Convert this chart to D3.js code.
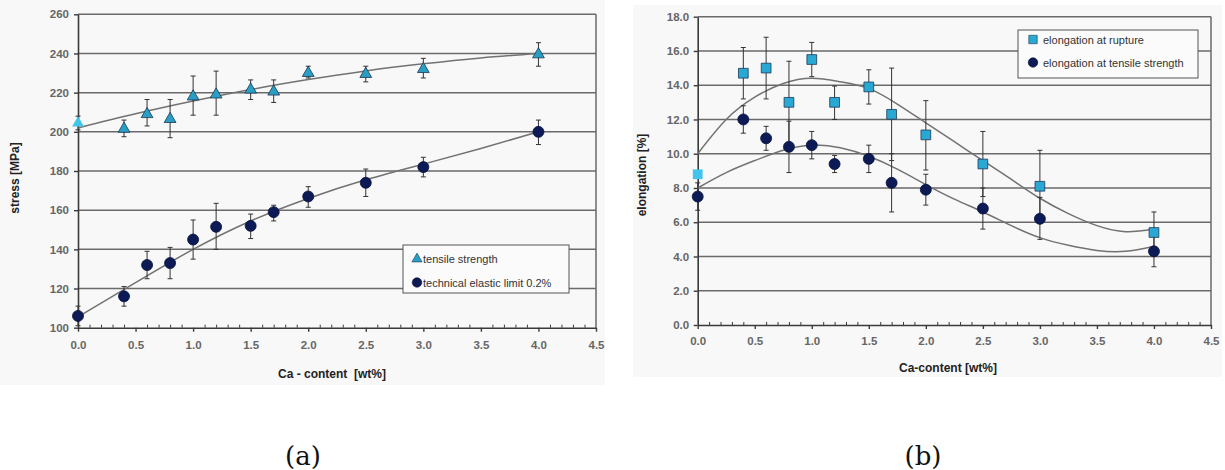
<!DOCTYPE html>
<html><head><meta charset="utf-8">
<script src="https://cdn.jsdelivr.net/npm/d3@7"></script>
<style>
body{margin:0;background:#fff;}
text{font-family:"Liberation Sans",Arial,sans-serif;}
</style></head>
<body>
<script>
// ---------- data ----------
const caContent = [0, 0.4, 0.6, 0.8, 1.0, 1.2, 1.5, 1.7, 2.0, 2.5, 3.0, 4.0];

// (a) stress
const tensileStrength   = [204.5, 201.5, 209, 206.5, 218, 219, 221.5, 220.5, 230, 229.5, 232, 239.5];
const tensileStrengthLo = [201, 197.5, 203, 197, 208.5, 208.5, 216.5, 215, 227.5, 225.5, 227.5, 233.5];
const tensileStrengthHi = [208, 206, 216.5, 216.5, 228.5, 231, 226.5, 226.5, 233.5, 233.5, 237.5, 245.5];
const elasticLimit   = [106, 116, 132, 133, 145, 151.5, 152, 159, 167, 174, 182, 200];
const elasticLimitLo = [101, 111, 125, 125, 135, 140, 145.5, 154.5, 161.5, 167, 177, 193.5];
const elasticLimitHi = [111, 121, 139, 141, 155, 163.5, 158, 162.5, 172, 181, 187, 206];
const trendXa = [0, 0.5, 1.0, 1.5, 2.0, 2.5, 3.0, 3.5, 4.0];
const tensileTrend = [202, 209.2, 215.7, 221.6, 226.7, 231.1, 234.7, 237.7, 240];
const elasticTrend = [105.5, 123, 140, 154.5, 166, 175.5, 183.5, 191.5, 200];
const stressTicks = [100, 120, 140, 160, 180, 200, 220, 240, 260];

// (b) elongation
const elongRupture   = [8.8, 14.7, 15.0, 13.0, 15.5, 13.0, 13.9, 12.3, 11.1, 9.4, 8.1, 5.4];
const elongRuptureLo = [null, 13.2, 13.2, 10.6, 14.5, 12.0, 12.9, 9.6, 9.05, 7.5, 6.0, 4.2];
const elongRuptureHi = [null, 16.2, 16.8, 15.4, 16.5, 13.95, 14.9, 15.0, 13.1, 11.3, 10.2, 6.6];
const elongTensile   = [7.5, 12.0, 10.9, 10.4, 10.5, 9.4, 9.7, 8.3, 7.9, 6.8, 6.2, 4.3];
const elongTensileLo = [6.7, 11.2, 10.2, 8.9, 9.7, 8.9, 8.9, 6.6, 7.0, 5.6, 5.0, 3.4];
const elongTensileHi = [8.3, 12.8, 11.6, 11.9, 11.3, 9.9, 10.5, 10.0, 8.8, 8.0, 7.45, 5.2];
const trendXb = [0, 0.25, 0.5, 0.75, 1.0, 1.25, 1.5, 1.75, 2.0, 2.25, 2.5, 2.75, 3.0, 3.25, 3.5, 3.75, 4.0];
const ruptureTrend = [10.0, 12.0, 13.3, 14.1, 14.4, 14.2, 13.8, 12.9, 11.8, 10.7, 9.6, 8.5, 7.4, 6.5, 5.8, 5.45, 5.6];
const tensileElTrend = [8.0, 8.9, 9.6, 10.2, 10.5, 10.35, 9.85, 9.1, 8.2, 7.35, 6.6, 5.8, 5.1, 4.65, 4.35, 4.3, 4.6];
const elongTicks = [0, 2, 4, 6, 8, 10, 12, 14, 16, 18];

const xTicks = [0, 0.5, 1.0, 1.5, 2.0, 2.5, 3.0, 3.5, 4.0, 4.5];

// ---------- drawing ----------
const svg = d3.select("body").append("svg").attr("width", 1225).attr("height", 470);

const GRID = "#6a6a6a", AXIS = "#3a3a3a", TREND = "#727272";

function panel(o) {
  const g = svg.append("g");
  g.append("rect").attr("x", o.bg[0]).attr("y", o.bg[1]).attr("width", o.bg[2]).attr("height", o.bg[3]).attr("fill", "#f8f8f8");
  const x = o.x, y = o.y;
  const [x0, x1] = x.range(), [y0, y1] = y.range();
  // gridlines
  g.selectAll(".grid").data(o.yTicks.slice(1)).join("line")
    .attr("x1", x0).attr("x2", x1).attr("y1", d => y(d)).attr("y2", d => y(d))
    .attr("stroke", GRID).attr("stroke-width", 1.5);
  // right border
  g.append("line").attr("x1", x1).attr("x2", x1).attr("y1", y1).attr("y2", y0).attr("stroke", GRID).attr("stroke-width", 1.5);
  // minor x ticks
  const minor = d3.range(1, 45).map(i => i / 10).filter(v => Math.abs(v * 2 - Math.round(v * 2)) > 1e-6);
  const ga = g.append("g").attr("transform", `translate(0,${y0})`)
    .call(d3.axisBottom(x).tickValues(minor).tickSize(-3).tickFormat(""));
  ga.select(".domain").remove();
  ga.selectAll("line").attr("stroke", AXIS).attr("stroke-width", 1);
  // x axis
  const gx = g.append("g").attr("transform", `translate(0,${y0})`)
    .call(d3.axisBottom(x).tickValues(xTicks).tickFormat(d3.format(".1f")).tickSize(4).tickPadding(o.xPad).tickSizeOuter(0));
  gx.select(".domain").attr("stroke", AXIS).attr("stroke-width", 1.6);
  gx.selectAll("line").attr("stroke", AXIS).attr("stroke-width", 1.4);
  gx.selectAll("text").attr("font-size", 11.5).attr("font-weight", "bold").attr("fill", "#666").style("font-family", "Liberation Sans, Arial, sans-serif");
  // y axis
  const gy = g.append("g").attr("transform", `translate(${x0},0)`)
    .call(d3.axisLeft(y).tickValues(o.yTicks).tickFormat(o.yFmt).tickSize(4).tickPadding(o.yPad).tickSizeOuter(0));
  gy.select(".domain").attr("stroke", AXIS).attr("stroke-width", 1.6);
  gy.selectAll("line").attr("stroke", AXIS).attr("stroke-width", 1.4);
  gy.selectAll("text").attr("font-size", 11.5).attr("font-weight", "bold").attr("fill", "#666").style("font-family", "Liberation Sans, Arial, sans-serif");
  // axis titles
  g.append("text").attr("x", o.xTitle[0]).attr("y", o.xTitle[1]).attr("text-anchor", "middle")
    .attr("font-size", 12).attr("font-weight", "bold").attr("fill", "#222").style("white-space", "pre").text(o.xLabel);
  g.append("text").attr("transform", `translate(${o.yTitle[0]},${o.yTitle[1]}) rotate(-90)`).attr("text-anchor", "middle")
    .attr("font-size", 12).attr("font-weight", "bold").attr("fill", "#222").text(o.yLabel);
  // trend lines
  const line = d3.line().x(d => x(d[0])).y(d => y(d[1])).curve(d3.curveNatural);
  o.series.forEach(s => {
    g.append("path").attr("d", line(d3.zip(s.tx, s.ty))).attr("fill", "none").attr("stroke", TREND).attr("stroke-width", 1.5);
  });
  // error bars
  o.series.forEach(s => {
    const eb = caContent.map((c, i) => ({ c, lo: s.lo[i], hi: s.hi[i] })).filter(d => d.lo != null);
    const ge = g.append("g").attr("stroke", "#333").attr("stroke-width", 1);
    ge.selectAll(".v").data(eb).join("line").attr("x1", d => x(d.c)).attr("x2", d => x(d.c)).attr("y1", d => y(d.lo)).attr("y2", d => y(d.hi));
    ge.selectAll(".t").data(eb).join("line").attr("x1", d => x(d.c) - 2.5).attr("x2", d => x(d.c) + 2.5).attr("y1", d => y(d.hi)).attr("y2", d => y(d.hi));
    ge.selectAll(".b").data(eb).join("line").attr("x1", d => x(d.c) - 2.5).attr("x2", d => x(d.c) + 2.5).attr("y1", d => y(d.lo)).attr("y2", d => y(d.lo));
  });
  // markers
  o.series.forEach(s => {
    const sym = d3.symbol(s.shape, s.size);
    g.selectAll(null).data(caContent.map((c, i) => [c, s.v[i], i])).join("path")
      .attr("d", sym)
      .attr("transform", d => `translate(${x(d[0])},${y(d[1])})`)
      .attr("fill", d => d[2] === 0 && s.first ? s.first : s.fill)
      .attr("stroke", d => d[2] === 0 && s.first ? "none" : s.stroke).attr("stroke-width", 0.8);
  });
  // legend
  const L = o.legend;
  g.append("rect").attr("x", L.x).attr("y", L.y).attr("width", L.w).attr("height", L.h)
    .attr("fill", "#fbfbfb").attr("stroke", "#555").attr("stroke-width", 1);
  o.series.forEach((s, i) => {
    const cy = L.y + L.first + i * L.step;
    g.append("path").attr("d", d3.symbol(s.shape, s.size * 0.75)).attr("transform", `translate(${L.mx},${cy})`)
      .attr("fill", s.fill).attr("stroke", s.stroke).attr("stroke-width", 0.6);
    g.append("text").attr("x", L.tx).attr("y", cy + 4).attr("font-size", 11).attr("fill", "#333").text(s.name);
  });
}

panel({
  bg: [0, 0, 605, 385],
  x: d3.scaleLinear([0, 4.5], [78, 596]),
  y: d3.scaleLinear([100, 260], [327.7, 14.3]),
  yTicks: stressTicks, yFmt: d3.format("d"), yPad: 5, xPad: 9,
  xLabel: "Ca - content  [wt%]", xTitle: [332, 378],
  yLabel: "stress [MPa]", yTitle: [19, 178],
  series: [
    { name: "tensile strength", v: tensileStrength, lo: tensileStrengthLo, hi: tensileStrengthHi, tx: trendXa, ty: tensileTrend,
      shape: d3.symbolTriangle, size: 60, fill: "#2a9fc6", stroke: "#1b3550", first: "#3fc6ea" },
    { name: "technical elastic limit 0.2%", v: elasticLimit, lo: elasticLimitLo, hi: elasticLimitHi, tx: trendXa, ty: elasticTrend,
      shape: d3.symbolCircle, size: 95, fill: "#0c1a55", stroke: "#08113a" }
  ],
  legend: { x: 403, y: 245, w: 166, h: 48, first: 14, step: 23.5, mx: 417, tx: 423 }
});

panel({
  bg: [633, 5, 589, 372],
  x: d3.scaleLinear([0, 4.5], [697.7, 1211]),
  y: d3.scaleLinear([0, 18], [325, 16.7]),
  yTicks: elongTicks, yFmt: d3.format(".1f"), yPad: 4.5, xPad: 8,
  xLabel: "Ca-content [wt%]", xTitle: [948, 372],
  yLabel: "elongation [%]", yTitle: [646, 175],
  series: [
    { name: "elongation at rupture", v: elongRupture, lo: elongRuptureLo, hi: elongRuptureHi, tx: trendXb, ty: ruptureTrend,
      shape: d3.symbolSquare, size: 95, fill: "#2aa8d4", stroke: "#1c3a58", first: "#40c4ee" },
    { name: "elongation at tensile strength", v: elongTensile, lo: elongTensileLo, hi: elongTensileHi, tx: trendXb, ty: tensileElTrend,
      shape: d3.symbolCircle, size: 95, fill: "#0c1a55", stroke: "#08113a" }
  ],
  legend: { x: 1018, y: 30, w: 180, h: 48, first: 9.5, step: 23, mx: 1033, tx: 1043 }
});

// sub-figure labels
svg.append("text").attr("x", 303).attr("y", 465).attr("text-anchor", "middle").attr("font-size", 26)
  .style("font-family", "'DejaVu Serif','Liberation Serif',serif").attr("fill", "#111").text("(a)");
svg.append("text").attr("x", 923).attr("y", 465).attr("text-anchor", "middle").attr("font-size", 26)
  .style("font-family", "'DejaVu Serif','Liberation Serif',serif").attr("fill", "#111").text("(b)");
</script>
</body></html>
